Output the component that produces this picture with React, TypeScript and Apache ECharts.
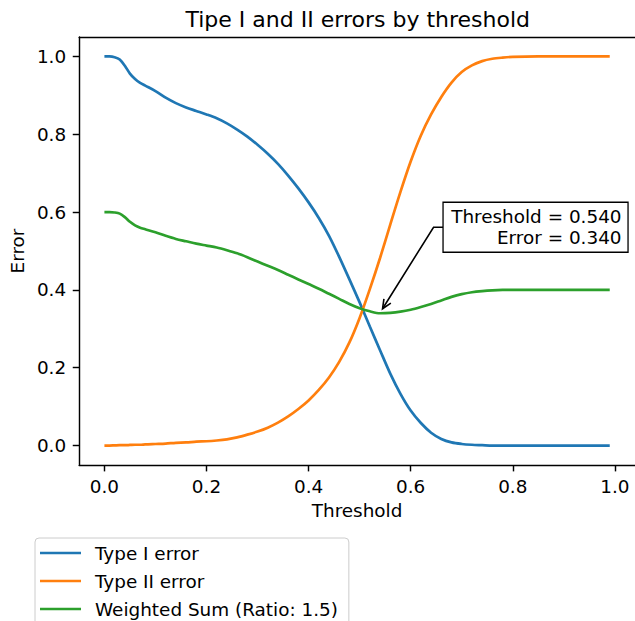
import React, { useEffect, useRef } from "react";
import * as echarts from "echarts";

const thresholds = [0, 0.01, 0.02, 0.03, 0.04, 0.05, 0.06, 0.07, 0.08, 0.1, 0.12, 0.14, 0.16, 0.18, 0.2, 0.22, 0.24, 0.26, 0.28, 0.3, 0.32, 0.34, 0.36, 0.38, 0.4, 0.42, 0.44, 0.46, 0.48, 0.5, 0.52, 0.54, 0.56, 0.58, 0.6, 0.62, 0.64, 0.66, 0.68, 0.7, 0.72, 0.74, 0.76, 0.78, 0.8, 0.85, 0.9, 0.95, 0.99];

const typeIError = [1.0, 1.0, 0.998, 0.992, 0.976, 0.956, 0.942, 0.932, 0.925, 0.911, 0.894, 0.88, 0.869, 0.86, 0.851, 0.841, 0.828, 0.812, 0.794, 0.773, 0.75, 0.724, 0.694, 0.661, 0.625, 0.585, 0.539, 0.485, 0.427, 0.368, 0.306, 0.245, 0.185, 0.133, 0.09, 0.058, 0.033, 0.017, 0.008, 0.004, 0.002, 0.001, 0, 0, 0, 0, 0, 0, 0];

const typeIIError = [0, 0, 0.0005, 0.001, 0.001, 0.0015, 0.002, 0.002, 0.003, 0.004, 0.005, 0.007, 0.008, 0.01, 0.011, 0.013, 0.016, 0.021, 0.028, 0.036, 0.046, 0.059, 0.075, 0.094, 0.116, 0.143, 0.175, 0.215, 0.265, 0.328, 0.402, 0.482, 0.568, 0.652, 0.73, 0.797, 0.851, 0.896, 0.933, 0.96, 0.977, 0.988, 0.994, 0.997, 0.999, 1.0, 1.0, 1.0, 1.0];

const weightedSum = [0.6, 0.6, 0.599, 0.596, 0.587, 0.575, 0.566, 0.56, 0.556, 0.548, 0.539, 0.531, 0.525, 0.519, 0.514, 0.509, 0.502, 0.494, 0.484, 0.473, 0.462, 0.451, 0.439, 0.427, 0.415, 0.403, 0.39, 0.377, 0.364, 0.353, 0.345, 0.34, 0.341, 0.344, 0.349, 0.356, 0.364, 0.373, 0.382, 0.389, 0.394, 0.397, 0.399, 0.4, 0.4, 0.4, 0.4, 0.4, 0.4];

const tickValues = [0, 0.2, 0.4, 0.6, 0.8, 1.0];
const seriesNames = ["Type I error", "Type II error", "Weighted Sum (Ratio: 1.5)"];
const seriesColors = ["#1f77b4", "#ff7f0e", "#2ca02c"];
const titleText = "Tipe I and II errors by threshold";
const bestThreshold = 0.54;
const bestError = 0.34;

const FONT = "DejaVu Sans";
const FS = 18.4;

export default function App() {
  const ref = useRef<HTMLDivElement>(null);
  useEffect(() => {
    if (!ref.current) return;
    const chart = echarts.init(ref.current, null, { renderer: "svg" });
    const gridLeft = 76;
    const gridTop = 37;
    const gridW = 563.5;
    const gridH = 428;
    const values = [typeIError, typeIIError, weightedSum];
    const axisLineStyle = { color: "#000", width: 1.45 };
    chart.setOption({
      animation: false,
      backgroundColor: "#ffffff",
      grid: { left: gridLeft, top: gridTop, width: gridW, height: gridH, containLabel: false },
      xAxis: [
        {
          type: "value",
          min: -0.0495,
          max: 1.0395,
          name: "Threshold",
          nameLocation: "middle",
          nameGap: 36,
          nameTextStyle: { fontFamily: FONT, fontSize: FS, color: "#000" },
          axisLine: { show: true, onZero: false, lineStyle: axisLineStyle },
          axisTick: { show: true, length: 6.4, customValues: tickValues, lineStyle: axisLineStyle },
          axisLabel: {
            customValues: tickValues,
            formatter: (v: number) => v.toFixed(1),
            fontFamily: FONT,
            fontSize: FS,
            color: "#000",
            margin: 12,
          },
          splitLine: { show: false },
        },
        {
          type: "value",
          position: "top",
          min: -0.0495,
          max: 1.0395,
          axisLine: { show: true, onZero: false, lineStyle: axisLineStyle },
          axisTick: { show: false },
          axisLabel: { show: false },
          splitLine: { show: false },
        },
      ],
      yAxis: {
        type: "value",
        min: -0.05,
        max: 1.05,
        name: "Error",
        nameLocation: "middle",
        nameGap: 51,
        nameRotate: 90,
        nameTextStyle: { fontFamily: FONT, fontSize: FS, color: "#000" },
        axisLine: { show: true, onZero: false, lineStyle: axisLineStyle },
        axisTick: { show: true, length: 6.4, customValues: tickValues, lineStyle: axisLineStyle },
        axisLabel: {
          customValues: tickValues,
          formatter: (v: number) => v.toFixed(1),
          fontFamily: FONT,
          fontSize: FS,
          color: "#000",
          margin: 13,
        },
        splitLine: { show: false },
      },
      legend: {
        orient: "vertical",
        left: 35,
        top: 538,
        height: 90,
        icon: "rect",
        itemWidth: 41,
        itemHeight: 2.7,
        itemGap: 7,
        padding: [4.5, 11, 6, 5],
        borderColor: "#cccccc",
        borderWidth: 1,
        borderRadius: 4,
        backgroundColor: "#ffffff",
        textStyle: { fontFamily: FONT, fontSize: FS, lineHeight: 21, color: "#000", padding: [0, 0, 0, 9] },
        data: seriesNames,
      },
      series: seriesNames.map((name, k) => ({
        name,
        type: "line",
        xAxisIndex: 0,
        data: thresholds.map((t, i) => [t, values[k][i]]),
        showSymbol: false,
        symbol: "none",
        smooth: 0.3,
        lineStyle: { color: seriesColors[k], width: 2.7 },
        itemStyle: { color: seriesColors[k] },
        z: 2 + k,
      })),
    });

    const p = chart.convertToPixel({ xAxisIndex: 0, yAxisIndex: 0 }, [bestThreshold, bestError]) as number[];
    const px = p[0];
    const py = p[1];
    const boxX = px + 63;
    const boxY = py - 111;
    const boxW = 185;
    const boxH = 50;
    const elbowX = boxX - 9.5;
    const elbowY = boxY + 25;
    const tipX = px + 2.5;
    const tipY = py - 4.5;
    const ang = Math.atan2(tipY - elbowY, tipX - elbowX);
    const headLen = 10;
    const headAng = 0.42;
    const w1 = [tipX - headLen * Math.cos(ang - headAng), tipY - headLen * Math.sin(ang - headAng)];
    const w2 = [tipX - headLen * Math.cos(ang + headAng), tipY - headLen * Math.sin(ang + headAng)];
    const cx = gridLeft + gridW / 2;

    chart.setOption({
      graphic: [
        {
          type: "text",
          x: cx,
          y: 19,
          style: { text: titleText, fontFamily: FONT, fontSize: 22, fill: "#000", textAlign: "center", textVerticalAlign: "middle" },
        },
        {
          type: "polyline",
          shape: { points: [[boxX, elbowY], [elbowX, elbowY], [tipX, tipY]] },
          style: { stroke: "#000", lineWidth: 1.6, fill: null },
          z: 10,
        },
        {
          type: "polyline",
          shape: { points: [w1, [tipX, tipY], w2] },
          style: { stroke: "#000", lineWidth: 1.6, fill: null },
          z: 10,
        },
        {
          type: "rect",
          shape: { x: boxX, y: boxY, width: boxW, height: boxH },
          style: { fill: "#fff", stroke: "#000", lineWidth: 1.3 },
          z: 10,
        },
        {
          type: "text",
          x: boxX + boxW - 6.5,
          y: boxY + 14,
          style: { text: "Threshold = 0.540", fontFamily: FONT, fontSize: FS, fill: "#000", textAlign: "right", textVerticalAlign: "middle" },
          z: 11,
        },
        {
          type: "text",
          x: boxX + boxW - 6.5,
          y: boxY + 35,
          style: { text: "Error = 0.340", fontFamily: FONT, fontSize: FS, fill: "#000", textAlign: "right", textVerticalAlign: "middle" },
          z: 11,
        },
      ],
    });

    return () => chart.dispose();
  }, []);
  return <div ref={ref} style={{ position: "fixed", left: 0, top: 0, width: 635, height: 621 }} />;
}
